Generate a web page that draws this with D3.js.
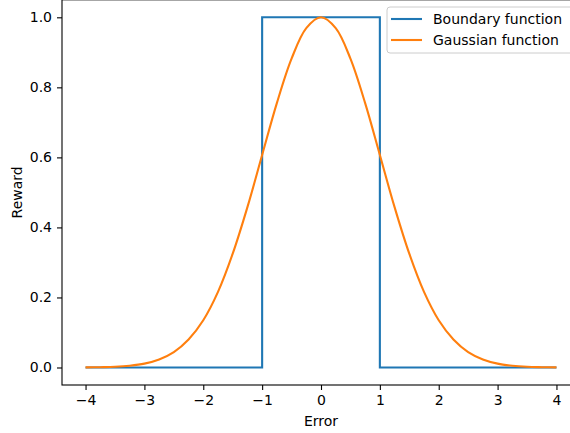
<!DOCTYPE html>
<html>
<head>
<meta charset="utf-8">
<script src="https://cdn.jsdelivr.net/npm/d3@7"></script>
<style>
  body { margin: 0; background: white; }
  svg { display: block; font-family: "DejaVu Sans", sans-serif; }
</style>
</head>
<body>
<div id="chart"></div>
<script>
// values
const errorX = [-4, -3.75, -3.5, -3.25, -3, -2.75, -2.5, -2.25, -2, -1.75, -1.5, -1.25, -1, -0.75, -0.5, -0.25,
  0, 0.25, 0.5, 0.75, 1, 1.25, 1.5, 1.75, 2, 2.25, 2.5, 2.75, 3, 3.25, 3.5, 3.75, 4];
const gaussianY = [0.0003, 0.0009, 0.002, 0.005, 0.011, 0.023, 0.044, 0.08, 0.135, 0.216, 0.325, 0.458, 0.607, 0.755, 0.882, 0.969,
  1.0, 0.969, 0.882, 0.755, 0.607, 0.458, 0.325, 0.216, 0.135, 0.08, 0.044, 0.023, 0.011, 0.005, 0.002, 0.0009, 0.0003];
const boundaryX = [-4, -1, -1, 1, 1, 4];
const boundaryY = [0, 0, 1, 1, 0, 0];
const xTicks = [-4, -3, -2, -1, 0, 1, 2, 3, 4];
const yTicks = [0.0, 0.2, 0.4, 0.6, 0.8, 1.0];
const seriesNames = ["Boundary function", "Gaussian function"];
const colors = ["#1f77b4", "#ff7f0e"];

let W = 570, H = 433;
let margin = { top: -0.2, left: 62, right: -10, bottom: 48 },
  width = W - margin.left - margin.right,
  height = H - margin.top - margin.bottom;

let svg = d3.select("#chart").append("svg")
  .attr("width", W)
  .attr("height", H);

let g = svg.append("g")
  .attr("transform", `translate(${margin.left},${margin.top})`);

const x = d3.scaleLinear().domain([-4.4, 4.4]).range([0, width]);
const y = d3.scaleLinear().domain([-0.05, 1.05]).range([height, 0]);

const line = d3.line().x(d => x(d[0])).y(d => y(d[1]));

// boundary step
g.append("path")
  .datum(d3.zip(boundaryX, boundaryY))
  .attr("fill", "none")
  .attr("stroke", colors[0])
  .attr("stroke-width", 2.1)
  .attr("d", line);

// gaussian
g.append("path")
  .datum(d3.zip(errorX, gaussianY))
  .attr("fill", "none")
  .attr("stroke", colors[1])
  .attr("stroke-width", 2.1)
  .attr("d", line.curve(d3.curveCatmullRom.alpha(0.5)));

// axes
let xAxis = g.append("g")
  .attr("transform", `translate(0,${height})`)
  .call(d3.axisBottom(x).tickValues(xTicks).tickSize(5).tickPadding(5)
    .tickFormat(d => d < 0 ? "\u2212" + Math.abs(d) : d));
let yAxis = g.append("g")
  .call(d3.axisLeft(y).tickValues(yTicks).tickSize(5).tickPadding(5)
    .tickFormat(d3.format(".1f")));

[xAxis, yAxis].forEach(a => {
  a.select(".domain").remove();
  a.selectAll("line").attr("stroke", "black").attr("stroke-width", 1.1);
  a.selectAll("text").attr("font-size", 14).attr("font-family", "DejaVu Sans").attr("fill", "black");
});

// spines
g.append("rect")
  .attr("x", 0).attr("y", 0)
  .attr("width", width).attr("height", height)
  .attr("fill", "none")
  .attr("stroke", "black")
  .attr("stroke-width", 1.1);

// labels
g.append("text")
  .attr("x", width / 2 - (margin.right + 10) / 2 + 0)
  .attr("x", x(0))
  .attr("y", height + 41)
  .attr("text-anchor", "middle")
  .attr("font-size", 14)
  .text("Error");

g.append("text")
  .attr("transform", `translate(${-40},${y(0.5)}) rotate(-90)`)
  .attr("text-anchor", "middle")
  .attr("font-size", 14)
  .text("Reward");

// legend
let lg = svg.append("g").attr("transform", "translate(387,7)");
lg.append("rect")
  .attr("width", 188).attr("height", 46)
  .attr("rx", 3)
  .attr("fill", "white").attr("fill-opacity", 0.8)
  .attr("stroke", "#cccccc").attr("stroke-width", 1);
seriesNames.forEach((name, i) => {
  let row = lg.append("g").attr("transform", `translate(0,${12 + i * 21})`);
  row.append("line")
    .attr("x1", 4).attr("x2", 35)
    .attr("stroke", colors[i]).attr("stroke-width", 2.1);
  row.append("text")
    .attr("x", 46).attr("y", 5)
    .attr("font-size", 14)
    .text(name);
});
</script>
</body>
</html>
